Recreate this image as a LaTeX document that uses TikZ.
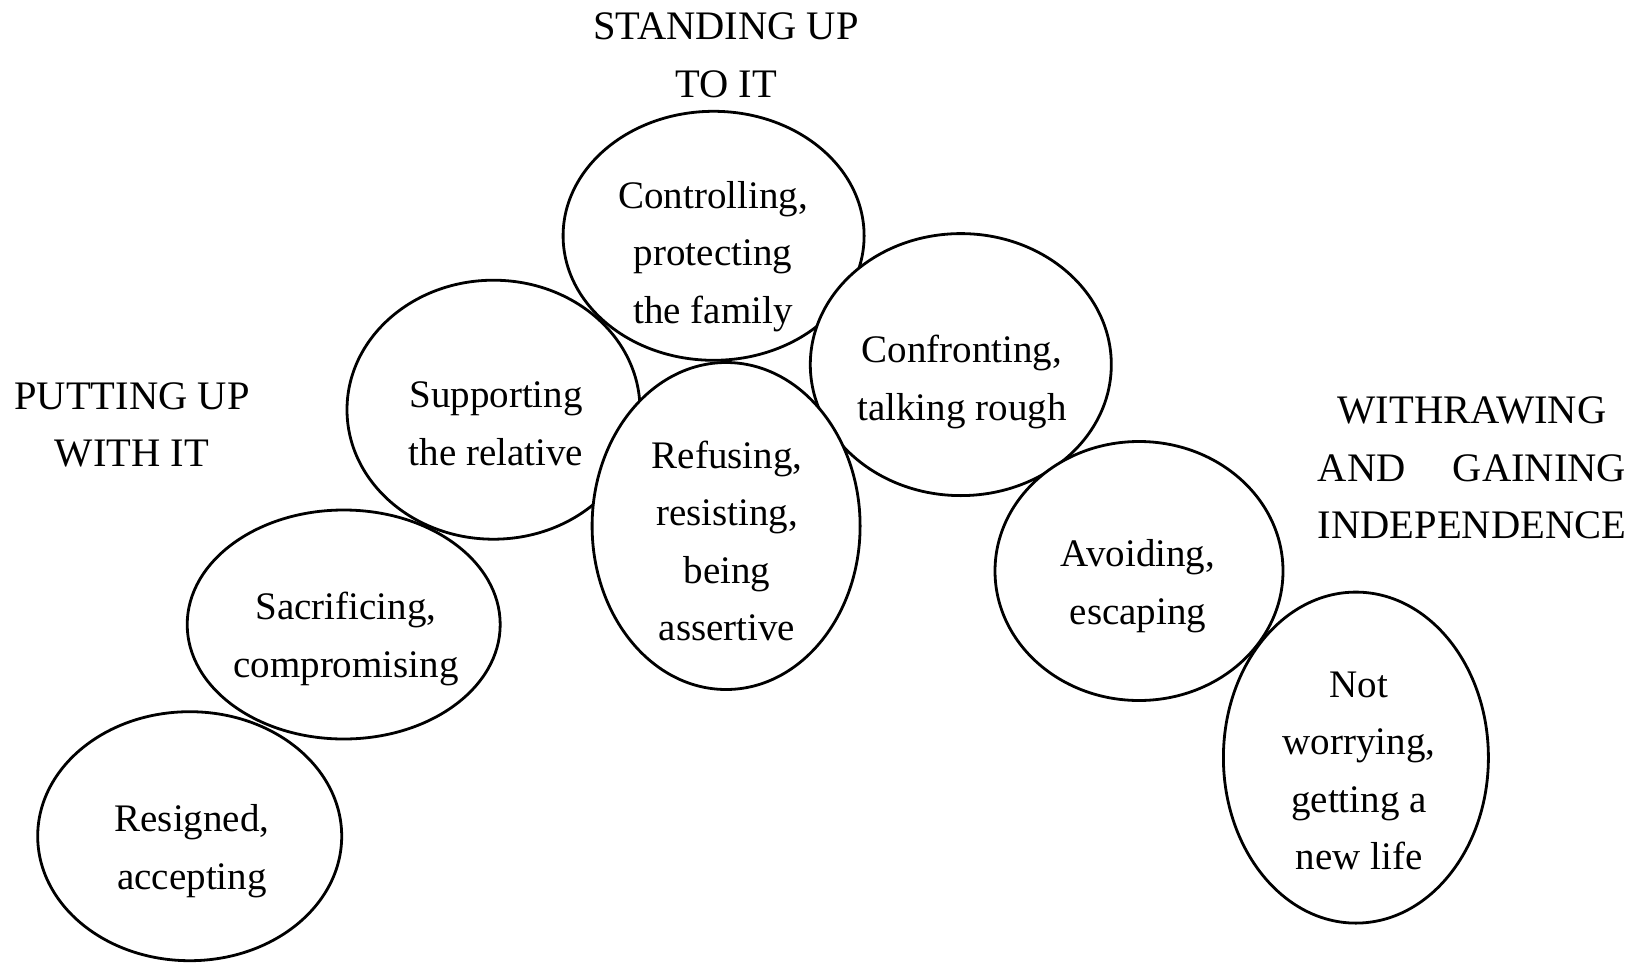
\documentclass[tikz,border=0pt]{standalone}
\usepackage{fontspec}
\setmainfont{Liberation Serif}
\usetikzlibrary{shapes.geometric}
\newsavebox\indbox
\begin{document}
\begin{tikzpicture}[x=1pt,y=-1pt,
  bub/.style={ellipse,draw,fill=white,line width=2.8pt,inner sep=0pt},
  lbl/.style={align=center,font=\fontsize{39}{57.6}\selectfont,inner sep=0pt},
  hd/.style={align=center,font=\fontsize{40.5}{57.6}\selectfont,inner sep=0pt}]
\useasboundingbox (0,0) rectangle (1643,963);
% ellipses
\node[bub,minimum width=293,minimum height=259] (sup) at (493.5,409.7) {};
\node[bub,minimum width=313,minimum height=229] (sac) at (343.7,624.5) {};
\node[bub,minimum width=304,minimum height=249] (res) at (189.7,836.2) {};
\node[bub,minimum width=301,minimum height=249] (con) at (713.6,235.8) {};
\node[bub,minimum width=301,minimum height=262] (cnf) at (960.8,364.6) {};
\node[bub,minimum width=268,minimum height=327] (ref) at (726.1,526) {};
\node[bub,minimum width=288,minimum height=259] (avo) at (1139,571) {};
\node[bub,minimum width=265,minimum height=331] (not) at (1355.9,757.6) {};
% texts in ellipses
\node[lbl] (tres) at (192,851) {Resigned,\\accepting};
\node[lbl] (tsac) at (346,639) {Sacrificing,\\compromising};
\node[lbl] (tsup) at (496,424) {Supporting\\the relative};
\node[lbl] (tcon) at (713,256.6) {Controlling,\\protecting\\the family};
\node[lbl] (tref) at (727,541) {Refusing,\\resisting,\\being\\assertive};
\node[lbl] (tcnf) at (962,382) {Confronting,\\talking rough};
\node[lbl] (tavo) at (1138,586) {Avoiding,\\escaping};
\node[lbl] (tnot) at (1359,771) {Not\\worrying,\\getting a\\new life};
% headings
\node[hd] (hstand) at (726,55) {STANDING UP\\TO IT};
\node[hd] (hput) at (132,425) {PUTTING UP\\WITH IT};
\node[hd] (hwith) at (1472,468) {WITHRAWING\\\sbox\indbox{INDEPENDENCE}\makebox[\wd\indbox]{AND\hfill GAINING}\\INDEPENDENCE};
\end{tikzpicture}
\end{document}
